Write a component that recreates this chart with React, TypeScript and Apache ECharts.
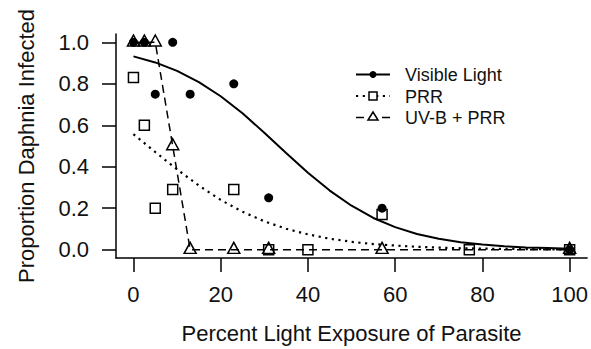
import React, { useEffect, useRef } from "react";
import * as echarts from "echarts";

const FONT = "Liberation Sans, Arial, sans-serif";
const INK = "#000";
const TEXT = "#111";

const xTicks = [0, 20, 40, 60, 80, 100];
const yTicks = [0, 0.2, 0.4, 0.6, 0.8, 1.0];

// Observed proportions
const visibleX = [0, 2.5, 5, 9, 13, 23, 31, 57, 100];
const visibleY = [1.0, 1.0, 0.75, 1.0, 0.75, 0.8, 0.25, 0.2, 0.0];

const prrX = [0, 2.5, 5, 9, 23, 31, 40, 57, 77, 100];
const prrY = [0.83, 0.6, 0.2, 0.29, 0.29, 0.0, 0.0, 0.17, 0.0, 0.0];

const uvX = [0, 2.5, 5, 9, 13, 23, 31, 57, 100];
const uvY = [1.0, 1.0, 1.0, 0.5, 0.0, 0.0, 0.0, 0.0, 0.0];

// Fitted curves
const fitX = [0, 5, 10, 15, 20, 25, 30, 35, 40, 45, 50, 55, 60, 65, 70, 75, 80, 85, 90, 95, 100];
const visibleFit = [0.932, 0.903, 0.862, 0.808, 0.74, 0.658, 0.564, 0.466, 0.371, 0.285, 0.212, 0.153, 0.109, 0.076, 0.053, 0.036, 0.025, 0.017, 0.011, 0.008, 0.005];
const prrFit = [0.557, 0.471, 0.387, 0.309, 0.24, 0.183, 0.137, 0.101, 0.074, 0.053, 0.038, 0.027, 0.02, 0.014, 0.01, 0.007, 0.005, 0.004, 0.003, 0.002, 0.001];

const legendNames = ["Visible Light", "PRR", "UV-B + PRR"];

const zip = (xs: number[], ys: number[]) => xs.map((x, i) => [x, ys[i]]);

export default function App() {
  const ref = useRef<HTMLDivElement>(null);
  useEffect(() => {
    if (!ref.current) return;
    const chart = echarts.init(ref.current, null, { renderer: "svg" });
    const lx0 = 356, lx1 = 390, sx = 373, tx = 405;
    const rows = [74.5, 96, 117.5];
    chart.setOption({
      animation: false,
      backgroundColor: "#fff",
      grid: { left: 116, right: 2, top: 34, bottom: 84, containLabel: false },
      xAxis: {
        type: "value",
        min: -4,
        max: 104,
        name: "Percent Light Exposure of Parasite",
        nameLocation: "middle",
        nameGap: 64,
        nameTextStyle: { fontSize: 22, fontFamily: FONT, color: TEXT },
        axisLine: { show: true, onZero: false, lineStyle: { color: INK, width: 1.5 } },
        axisTick: { show: true, inside: false, length: 14, customValues: xTicks, lineStyle: { color: INK, width: 1.5 } },
        axisLabel: { customValues: xTicks, margin: 25, fontSize: 22, fontFamily: FONT, color: TEXT },
        splitLine: { show: false },
      },
      yAxis: {
        type: "value",
        min: -0.04,
        max: 1.04,
        name: "Proportion Daphnia Infected",
        nameLocation: "middle",
        nameGap: 79,
        nameTextStyle: { fontSize: 22, fontFamily: FONT, color: TEXT },
        axisLine: { show: true, onZero: false, lineStyle: { color: INK, width: 1.5 } },
        axisTick: { show: true, inside: false, length: 14, customValues: yTicks, lineStyle: { color: INK, width: 1.5 } },
        axisLabel: {
          customValues: yTicks,
          margin: 27,
          fontSize: 22,
          fontFamily: FONT,
          color: TEXT,
          formatter: (v: number) => v.toFixed(1),
        },
        splitLine: { show: false },
      },
      series: [
        {
          name: "Visible Light fit",
          type: "line",
          data: zip(fitX, visibleFit),
          symbol: "none",
          smooth: false,
          lineStyle: { color: INK, width: 2 },
          z: 2,
        },
        {
          name: "PRR fit",
          type: "line",
          data: zip(fitX, prrFit),
          symbol: "none",
          smooth: false,
          lineStyle: { color: INK, width: 2.2, type: [2.2, 4.5] },
          z: 2,
        },
        {
          name: legendNames[2],
          type: "line",
          data: zip(uvX, uvY),
          symbol: "triangle",
          symbolSize: [12, 11],
          symbolOffset: [0, -1.8],
          showAllSymbol: true,
          lineStyle: { color: INK, width: 1.5, type: [8, 5] },
          itemStyle: { color: "transparent", borderColor: INK, borderWidth: 1.5 },
          z: 3,
        },
        {
          name: legendNames[0],
          type: "scatter",
          data: zip(visibleX, visibleY),
          symbol: "circle",
          symbolSize: 9,
          itemStyle: { color: INK, opacity: 1 },
          z: 4,
        },
        {
          name: legendNames[1],
          type: "scatter",
          data: zip(prrX, prrY),
          symbol: "rect",
          symbolSize: 10,
          itemStyle: { color: "transparent", borderColor: INK, borderWidth: 1.5, opacity: 1 },
          z: 4,
        },
      ],
      graphic: [
        { type: "line", shape: { x1: lx0, y1: rows[0], x2: lx1, y2: rows[0] }, style: { stroke: INK, lineWidth: 2 } },
        { type: "circle", shape: { cx: sx, cy: rows[0], r: 3.5 }, style: { fill: INK } },
        { type: "line", shape: { x1: lx0, y1: rows[1], x2: lx1, y2: rows[1] }, style: { stroke: INK, lineWidth: 2.2, lineDash: [2.2, 4.5] } },
        { type: "rect", shape: { x: sx - 4, y: rows[1] - 4, width: 8, height: 8 }, style: { fill: "#fff", stroke: INK, lineWidth: 1.5 } },
        { type: "line", shape: { x1: lx0, y1: rows[2], x2: lx1, y2: rows[2] }, style: { stroke: INK, lineWidth: 1.5, lineDash: [8, 5] } },
        {
          type: "polygon",
          shape: { points: [[sx, rows[2] - 5.5], [sx - 5, rows[2] + 2.5], [sx + 5, rows[2] + 2.5]] },
          style: { fill: "#fff", stroke: INK, lineWidth: 1.5 },
        },
        ...legendNames.map((t, i) => ({
          type: "text",
          x: tx,
          y: rows[i] + 0.5,
          style: { text: t, fontSize: 18, fontFamily: FONT, fill: TEXT, align: "left", verticalAlign: "middle" },
        })),
      ],
    });
    return () => chart.dispose();
  }, []);
  return (
    <div
      ref={ref}
      style={{ position: "absolute", left: 0, top: 0, width: 591, height: 349, background: "#fff" }}
    />
  );
}
